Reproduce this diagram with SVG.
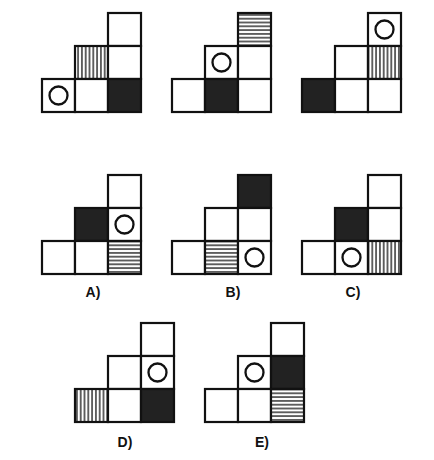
<svg xmlns="http://www.w3.org/2000/svg" xmlns:xlink="http://www.w3.org/1999/xlink" width="434" height="460" viewBox="0 0 434 460">
<style>
.c{fill:#fff;stroke:#111;stroke-width:2.2}
.k{fill:#222;stroke:#111;stroke-width:2.2}
.v{fill:url(#vh);stroke:#111;stroke-width:2.2}
.h{fill:url(#hh);stroke:#111;stroke-width:2.2}
.o{fill:none;stroke:#111;stroke-width:2.3}
.lbl{font-family:"Liberation Sans",Arial,sans-serif;font-weight:bold;font-size:14px;fill:#111;text-anchor:middle}
</style>
<defs>
<pattern id="vh" patternUnits="userSpaceOnUse" width="3.8" height="10">
<rect width="3.8" height="10" fill="#fff"/>
<line x1="1.9" y1="0" x2="1.9" y2="10" stroke="#222" stroke-width="1.4"/>
</pattern>
<pattern id="hh" patternUnits="userSpaceOnUse" width="10" height="3.8">
<rect width="10" height="3.8" fill="#fff"/>
<line x1="0" y1="1.9" x2="10" y2="1.9" stroke="#222" stroke-width="1.4"/>
</pattern>
</defs>
<rect width="434" height="460" fill="#fff"/>
<g id="fig1" transform="translate(42,13)">
<rect class="c" x="66" y="0" width="33" height="33"/>
<rect class="v" x="33" y="33" width="33" height="33"/>
<rect class="c" x="66" y="33" width="33" height="33"/>
<rect class="c" x="0" y="66" width="33" height="33"/>
<rect class="c" x="33" y="66" width="33" height="33"/>
<rect class="k" x="66" y="66" width="33" height="33"/>
<circle class="o" cx="16.5" cy="82.5" r="9"/>
</g>
<g id="fig2" transform="translate(172,13)">
<rect class="h" x="66" y="0" width="33" height="33"/>
<rect class="c" x="33" y="33" width="33" height="33"/>
<rect class="c" x="66" y="33" width="33" height="33"/>
<rect class="c" x="0" y="66" width="33" height="33"/>
<rect class="k" x="33" y="66" width="33" height="33"/>
<rect class="c" x="66" y="66" width="33" height="33"/>
<circle class="o" cx="49.5" cy="49.5" r="9"/>
</g>
<g id="fig3" transform="translate(302,13)">
<rect class="c" x="66" y="0" width="33" height="33"/>
<rect class="c" x="33" y="33" width="33" height="33"/>
<rect class="v" x="66" y="33" width="33" height="33"/>
<rect class="k" x="0" y="66" width="33" height="33"/>
<rect class="c" x="33" y="66" width="33" height="33"/>
<rect class="c" x="66" y="66" width="33" height="33"/>
<circle class="o" cx="82.5" cy="16.5" r="9"/>
</g>
<g id="optA" transform="translate(42,175)">
<rect class="c" x="66" y="0" width="33" height="33"/>
<rect class="k" x="33" y="33" width="33" height="33"/>
<rect class="c" x="66" y="33" width="33" height="33"/>
<rect class="c" x="0" y="66" width="33" height="33"/>
<rect class="c" x="33" y="66" width="33" height="33"/>
<rect class="h" x="66" y="66" width="33" height="33"/>
<circle class="o" cx="82.5" cy="49.5" r="9"/>
<text class="lbl" x="51" y="122">A)</text>
</g>
<g id="optB" transform="translate(172,175)">
<rect class="k" x="66" y="0" width="33" height="33"/>
<rect class="c" x="33" y="33" width="33" height="33"/>
<rect class="c" x="66" y="33" width="33" height="33"/>
<rect class="c" x="0" y="66" width="33" height="33"/>
<rect class="h" x="33" y="66" width="33" height="33"/>
<rect class="c" x="66" y="66" width="33" height="33"/>
<circle class="o" cx="82.5" cy="82.5" r="9"/>
<text class="lbl" x="61" y="122">B)</text>
</g>
<g id="optC" transform="translate(302,175)">
<rect class="c" x="66" y="0" width="33" height="33"/>
<rect class="k" x="33" y="33" width="33" height="33"/>
<rect class="c" x="66" y="33" width="33" height="33"/>
<rect class="c" x="0" y="66" width="33" height="33"/>
<rect class="c" x="33" y="66" width="33" height="33"/>
<rect class="v" x="66" y="66" width="33" height="33"/>
<circle class="o" cx="49.5" cy="82.5" r="9"/>
<text class="lbl" x="51" y="122">C)</text>
</g>
<g id="optD" transform="translate(75,323)">
<rect class="c" x="66" y="0" width="33" height="33"/>
<rect class="c" x="33" y="33" width="33" height="33"/>
<rect class="c" x="66" y="33" width="33" height="33"/>
<rect class="v" x="0" y="66" width="33" height="33"/>
<rect class="c" x="33" y="66" width="33" height="33"/>
<rect class="k" x="66" y="66" width="33" height="33"/>
<circle class="o" cx="82.5" cy="49.5" r="9"/>
<text class="lbl" x="50" y="124">D)</text>
</g>
<g id="optE" transform="translate(205,323)">
<rect class="c" x="66" y="0" width="33" height="33"/>
<rect class="c" x="33" y="33" width="33" height="33"/>
<rect class="k" x="66" y="33" width="33" height="33"/>
<rect class="c" x="0" y="66" width="33" height="33"/>
<rect class="c" x="33" y="66" width="33" height="33"/>
<rect class="h" x="66" y="66" width="33" height="33"/>
<circle class="o" cx="49.5" cy="49.5" r="9"/>
<text class="lbl" x="57" y="124">E)</text>
</g>
</svg>
